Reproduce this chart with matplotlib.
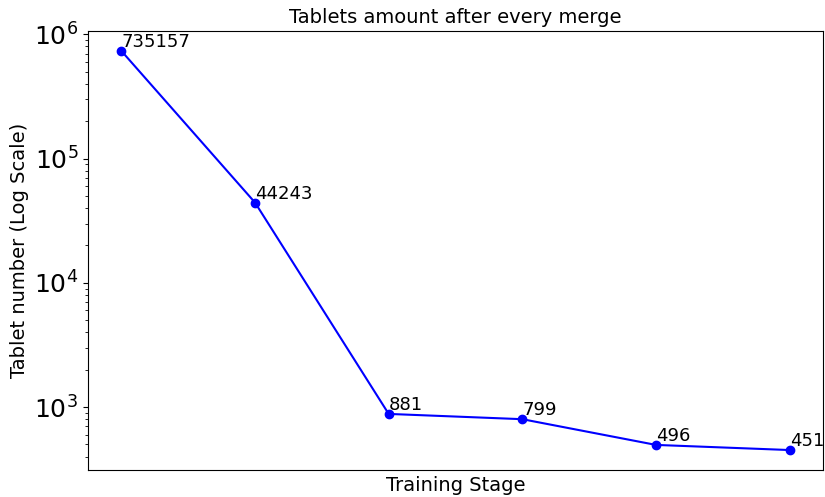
import matplotlib
matplotlib.use('Agg')
import matplotlib.pyplot as plt

# tablets left after each merge stage
stages = [0, 1, 2, 3, 4, 5]
tablets = [735157, 44243, 881, 799, 496, 451]

fig = plt.figure(figsize=(8.25, 4.97), dpi=100)
ax = fig.add_axes([88/825, 1 - 470/497, (823 - 88)/825, (470 - 31)/497])
ax.plot(stages, tablets, marker='o', color='blue')
ax.set_yscale('log')

for x, y in zip(stages, tablets):
    ax.text(x, y, str(y), fontsize=13, va='bottom')

ax.set_xticks([])
ax.tick_params(axis='y', labelsize=18)
ax.set_title('Tablets amount after every merge', fontsize=14)
ax.set_xlabel('Training Stage', fontsize=14)
ax.set_ylabel('Tablet number (Log Scale)', fontsize=14)

fig.savefig('out.png', dpi=100)
